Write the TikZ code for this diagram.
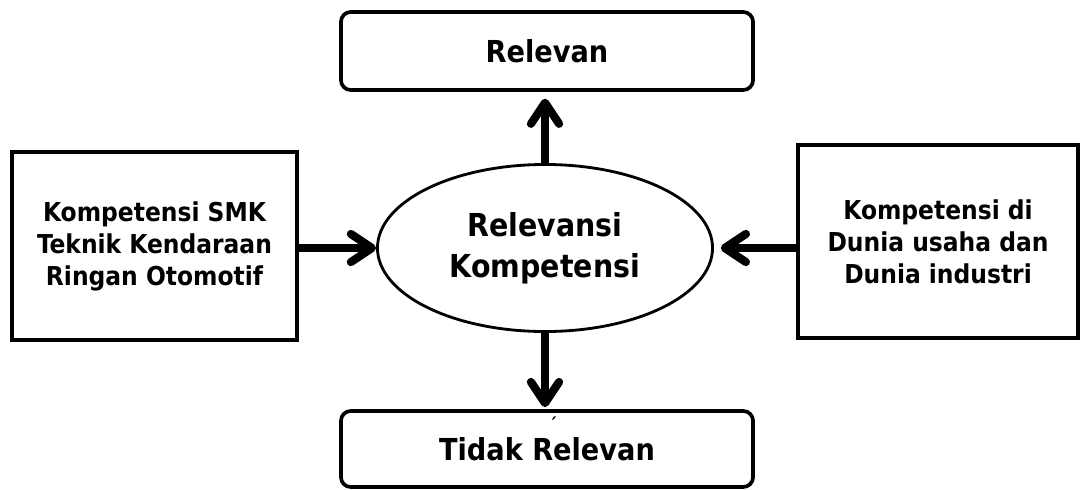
\documentclass[tikz,border=0pt]{standalone}
\usepackage{fontspec}
\setmainfont{DejaVu Sans Condensed}
\usepackage{tikz}
\usetikzlibrary{shapes, arrows.meta, calc, positioning}

\begin{document}
\begin{tikzpicture}[x=0.025cm, y=-0.025cm]
        \useasboundingbox (0, 0) rectangle (1081, 489);

        \coordinate (C) at (545, 248);

        \coordinate (T) at (547,  51);
        \coordinate (B) at (547, 449);
        \coordinate (L) at (154.5, 246);
        \coordinate (R) at (938,   241.5);

        \tikzstyle{box} = [draw, line width=2.6pt, align=center];
        \tikzstyle{sidebox} = [box, font=\bfseries\fontsize{18.5}{22.8}\selectfont];
        \tikzstyle{endbox} = [box, rounded corners=7pt, minimum width=10.3cm,
                              font=\bfseries\fontsize{21.5}{24}\selectfont];
        \tikzstyle{arr} = [line width=5.8pt, -{Straight Barb[length=15pt, width=20pt, round]}];

        \node [ellipse, draw, line width=2pt, minimum width=8.375cm, minimum height=4.175cm,
               align=center, font=\bfseries\fontsize{22.5}{29}\selectfont]
            (rel) at (C) {Relevansi\\Kompetensi};

        \node [endbox, minimum height=1.95cm] (top) at (T) {Relevan};
        \node [endbox, minimum height=1.9cm] (bot) at (B) {Tidak Relevan};

        \node [sidebox, minimum width=7.125cm, minimum height=4.7cm] (smk) at (L)
            {Kompetensi SMK\\Teknik Kendaraan\\Ringan Otomotif};
        \node [sidebox, minimum width=7cm, minimum height=4.825cm] (dudi) at (R)
            {Kompetensi di\\Dunia usaha dan\\Dunia industri};

        \node [font=\bfseries\fontsize{13}{13}\selectfont, inner sep=0pt] (acc) at (553, 424) {´};

        \draw [arr, shorten >=0.17cm] (rel.north) -- (rel.north |- top.south);
        \draw [arr, shorten >=0.05cm] (rel.south) -- (rel.south |- bot.north);
        \draw [arr] (smk.east |- C) -- (rel.west);
        \draw [arr, shorten >=0.17cm] (dudi.west |- C) -- (rel.east);
    \end{tikzpicture}
\end{document}
